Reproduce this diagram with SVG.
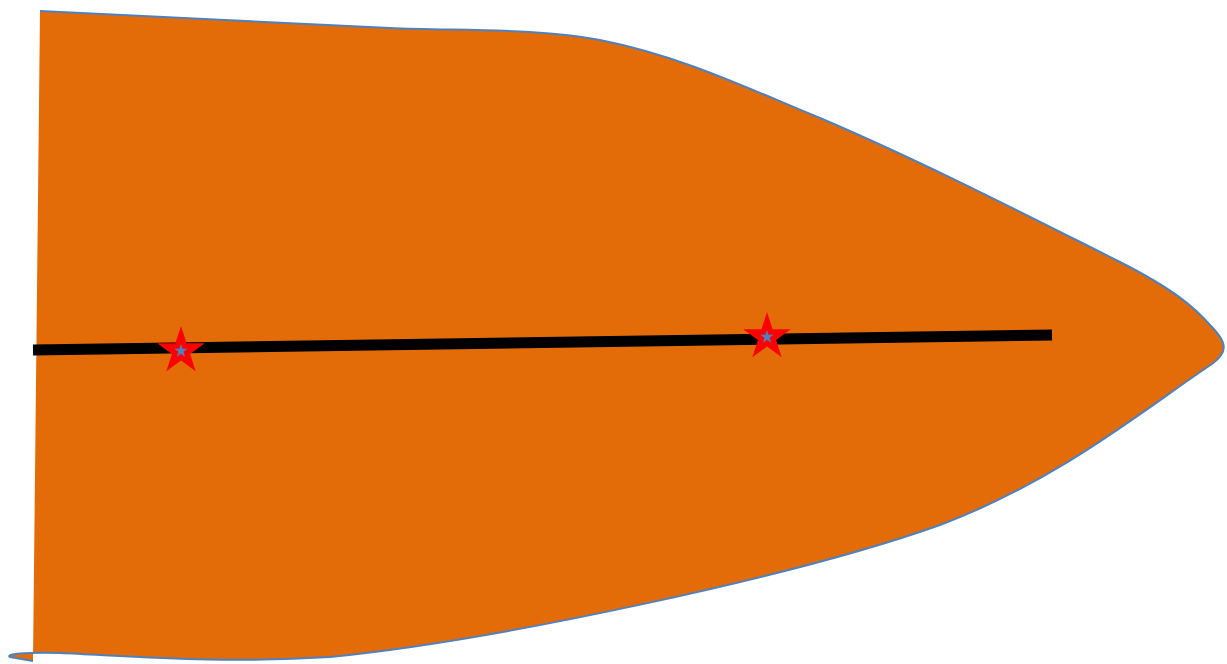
<svg xmlns="http://www.w3.org/2000/svg" width="1227" height="664" viewBox="0 0 1227 664">
<style>
.fill{fill:#e36c09;stroke:none}
.edge{fill:none;stroke:#4f81bd;stroke-width:2}
.red{fill:#ff0000}
.blue{fill:#4f81bd}
</style>
<rect width="1227" height="664" fill="#ffffff"/>
<g id="shape">
<path class="fill" d="M40,11 L390,28 C460,31 540,28 600,40 C680,56 740,85 820,118 C930,165 1040,222 1120,262 C1175,290 1195,308 1210,325 C1228,343 1228,352 1212,364 C1150,405 1060,480 940,525 C800,575 500,640 330,657 C220,664 130,656 60,653 C25,652 5,654 10,657 L33,661 Z"/>
<path class="edge" d="M40,11 L390,28 C460,31 540,28 600,40 C680,56 740,85 820,118 C930,165 1040,222 1120,262 C1175,290 1195,308 1210,325 C1228,343 1228,352 1212,364 C1150,405 1060,480 940,525 C800,575 500,640 330,657 C220,664 130,656 60,653 C25,652 5,654 10,657 L33,661"/>
</g>
<g id="connectors">
<line x1="33" y1="350" x2="1052" y2="335" stroke="#000" stroke-width="11"/>
</g>
<defs>
<polygon id="star" points="0,-1 0.2245,-0.309 0.951,-0.309 0.3633,0.118 0.5878,0.809 0,0.382 -0.5878,0.809 -0.3633,0.118 -0.951,-0.309 -0.2245,-0.309"/>
</defs>
<g id="star1">
<use href="#star" class="red" transform="translate(181,351) scale(25)"/>
<use href="#star" class="blue" transform="translate(181,351) scale(7)"/>
</g>
<g id="star2">
<use href="#star" class="red" transform="translate(767,337) scale(25)"/>
<use href="#star" class="blue" transform="translate(767,337) scale(7)"/>
</g>
</svg>
